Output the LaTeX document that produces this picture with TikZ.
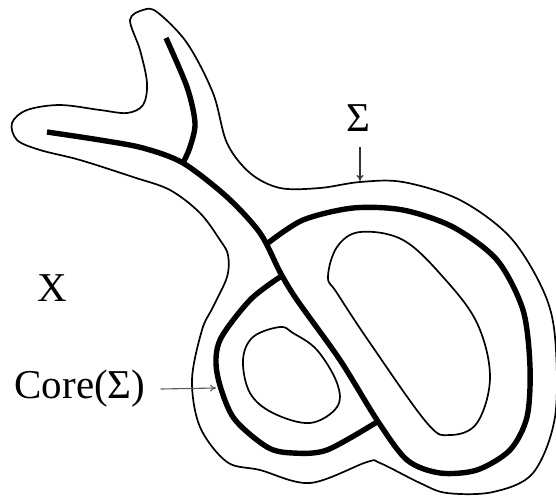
\documentclass[tikz,border=0pt]{standalone}
\usepackage{fontspec}
\setmainfont{Liberation Serif}
\usetikzlibrary{arrows.meta}
\begin{document}
\begin{tikzpicture}[x=1pt,y=-1pt,
  thinline/.style={line width=1.7pt,line join=round},
  thickline/.style={line width=5.4pt,line cap=butt,line join=round},
  lbl/.style={font=\fontsize{41}{45}\selectfont,inner sep=0pt},
  ptr/.style={line width=1.1pt,-{To[length=6pt,width=7pt]}}]
\useasboundingbox (0,0) rectangle (556,496);
% outer surface Sigma
\draw[thinline] plot[smooth cycle,tension=0.55] coordinates {
 (143,10) (157,12) (187,43) (213,93) (227,143) (250,173) (280,188)
 (320,188) (360,182) (403,182) (460,200) (510,237) (543,290) (555,337)
 (555,417) (533,473) (493,492) (447,493) (420,483) (380,463) (367,462)
 (310,483) (260,470) (227,462) (200,427) (192,380) (202,330) (213,307)
 (227,277) (228,255) (220,240) (200,213) (170,190) (133,177) (80,160) (40,150) (17,140)
 (12,123) (27,110) (60,105) (100,110) (127,113) (143,105) (147,83)
 (140,50) (130,20)};
% inner holes
\draw[thinline] plot[smooth cycle,tension=0.6] coordinates {
 (328,277) (337,247) (360,232) (403,240) (443,277) (477,323) (490,377)
 (477,423) (450,435) (427,423) (370,343) (337,293)};
\draw[thinline] plot[smooth cycle,tension=0.6] coordinates {
 (280,327) (293,333) (317,350) (337,383) (337,407) (310,423) (273,413)
 (250,393) (243,360) (253,337)};
% core
\draw[thickline] plot[smooth,tension=0.5] coordinates {
 (166,38) (187,87) (195,123) (190,147) (183,163)};
\draw[thickline] plot[smooth,tension=0.5] coordinates {
 (47,132) (100,140) (143,148) (183,163) (227,197) (260,233) (280,272)
 (297,300) (340,360) (377,420) (407,460) (440,473) (477,470) (510,450)
 (527,417) (530,367) (523,310) (497,260) (453,227) (403,210) (353,208)
 (303,220) (268,243)};
\draw[thickline] plot[smooth,tension=0.5] coordinates {
 (280,277) (250,300) (220,340) (217,373) (233,417) (267,447) (293,453)
 (327,450) (377,422)};
% labels
\node[lbl] (sig) at (358,118) {Σ};
\node[lbl] (x) at (52,288) {X};
\node[lbl] (core) at (80,389) {Core(Σ)};
\coordinate (sigpt) at (360,181);
\coordinate (corept) at (216,388);
\draw[ptr,black!80] (360,147) -- (sigpt);
\draw[ptr,black!65] (core.east) ++(15pt,0) -- (corept);
\end{tikzpicture}
\end{document}
